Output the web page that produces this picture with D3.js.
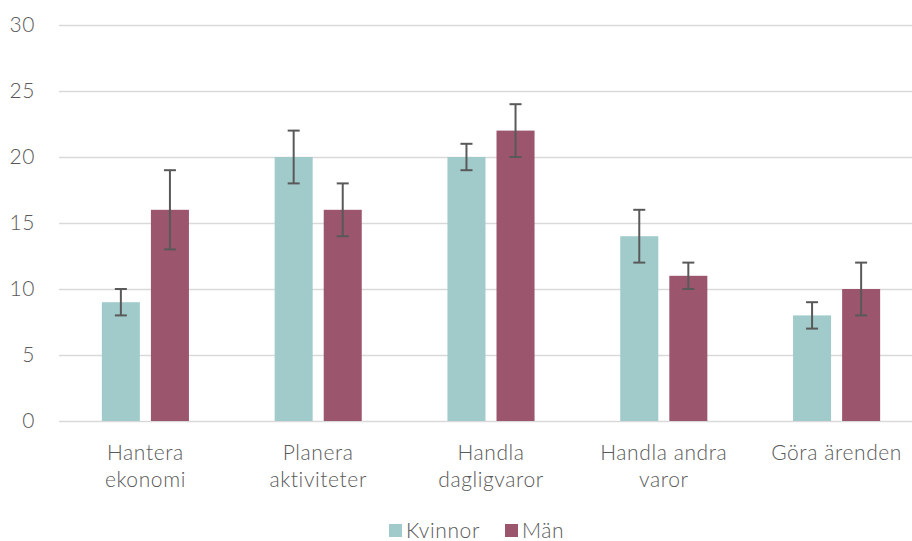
<!DOCTYPE html>
<html>
<head>
<meta charset="utf-8">
<script src="https://cdn.jsdelivr.net/npm/d3@7"></script>
<style>
  body { margin: 0; background: #fff; }
  text { font-family: Lato, "Open Sans", sans-serif; font-weight: 300; fill: #595959; letter-spacing: 0.6px; }
</style>
</head>
<body>
<svg id="chart"></svg>
<script>
// chart values
var categories = [["Hantera", "ekonomi"], ["Planera", "aktiviteter"], ["Handla", "dagligvaror"], ["Handla andra", "varor"], ["Göra ärenden"]];
var seriesNames = ["Kvinnor", "Män"];
var kvinnor = [9, 20, 20, 14, 8];
var kvinnorLow = [8, 18, 19, 12, 7];
var kvinnorHigh = [10, 22, 21, 16, 9];
var man = [16, 16, 22, 11, 10];
var manLow = [13, 14, 20, 10, 8];
var manHigh = [19, 18, 24, 12, 12];
var yTicks = [0, 5, 10, 15, 20, 25, 30];

var width = 912, height = 541;
var margin = {top: 25, right: 0, bottom: 120, left: 59};
var colors = ["#a1cbcb", "#9b556d"];

var svg = d3.select("#chart").attr("width", width).attr("height", height);

// the plot area runs a bit past the right edge of the picture
var x0 = d3.scaleBand()
  .domain(d3.range(categories.length))
  .range([margin.left, 923])
  .paddingInner(0.496)
  .paddingOuter(0.248);

var x1 = d3.scaleBand()
  .domain([0, 1])
  .range([0, x0.bandwidth()])
  .paddingInner(0.225);

var y = d3.scaleLinear().domain([0, 30]).range([height - margin.bottom, margin.top]);

// gridlines + labels
var yAxis = d3.axisLeft(y).tickValues(yTicks).tickSize(0).tickPadding(24);
var gy = svg.append("g")
  .attr("transform", "translate(" + margin.left + ",0)")
  .call(yAxis);
gy.select(".domain").remove();
gy.selectAll(".tick text").style("font-size", "21px").style("font-family", null);
gy.selectAll(".tick").append("line")
  .attr("x1", 0)
  .attr("x2", width - margin.left - margin.right)
  .attr("stroke", "#d9d9d9")
  .attr("stroke-width", 1.5);

var series = [
  {vals: kvinnor, lo: kvinnorLow, hi: kvinnorHigh},
  {vals: man, lo: manLow, hi: manHigh}
];

series.forEach(function(s, si) {
  var g = svg.append("g");
  g.selectAll("rect")
    .data(s.vals)
    .enter()
    .append("rect")
    .attr("x", function(d, i) { return x0(i) + x1(si); })
    .attr("y", function(d) { return y(d); })
    .attr("width", x1.bandwidth())
    .attr("height", function(d) { return y(0) - y(d); })
    .attr("fill", colors[si]);

  var err = g.selectAll("g.err")
    .data(s.vals)
    .enter()
    .append("g")
    .attr("class", "err")
    .attr("stroke", "#595959")
    .attr("stroke-width", 2);
  var cx = function(i) { return x0(i) + x1(si) + x1.bandwidth() / 2; };
  err.append("line")
    .attr("x1", function(d, i) { return cx(i); })
    .attr("x2", function(d, i) { return cx(i); })
    .attr("y1", function(d, i) { return y(s.lo[i]); })
    .attr("y2", function(d, i) { return y(s.hi[i]); });
  err.append("line")
    .attr("x1", function(d, i) { return cx(i) - 6; })
    .attr("x2", function(d, i) { return cx(i) + 6; })
    .attr("y1", function(d, i) { return y(s.lo[i]); })
    .attr("y2", function(d, i) { return y(s.lo[i]); });
  err.append("line")
    .attr("x1", function(d, i) { return cx(i) - 6; })
    .attr("x2", function(d, i) { return cx(i) + 6; })
    .attr("y1", function(d, i) { return y(s.hi[i]); })
    .attr("y2", function(d, i) { return y(s.hi[i]); });
});

// category labels
var cat = svg.append("g").selectAll("text")
  .data(categories)
  .enter()
  .append("text")
  .attr("text-anchor", "middle")
  .attr("x", function(d, i) { return x0(i) + x0.bandwidth() / 2; })
  .attr("y", y(0) + 39)
  .style("font-size", "21px");
cat.selectAll("tspan")
  .data(function(d) { return d; })
  .enter()
  .append("tspan")
  .attr("x", function() { return d3.select(this.parentNode).attr("x"); })
  .attr("dy", function(d, i) { return i === 0 ? 0 : 27; })
  .text(function(d) { return d; });

// legend
var legendX = [389, 505];
var legend = svg.append("g").selectAll("g")
  .data(seriesNames)
  .enter()
  .append("g")
  .attr("transform", function(d, i) { return "translate(" + legendX[i] + "," + 524 + ")"; });
legend.append("rect")
  .attr("width", 13)
  .attr("height", 13)
  .attr("fill", function(d, i) { return colors[i]; });
legend.append("text")
  .attr("x", 17)
  .attr("y", 14)
  .style("font-size", "21px")
  .text(function(d) { return d; });
</script>
</body>
</html>
